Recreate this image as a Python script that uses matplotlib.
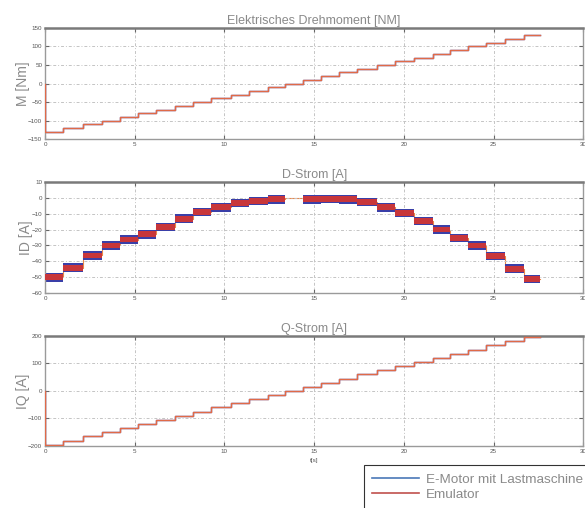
import numpy as np
import matplotlib.pyplot as plt

plt.rcParams['font.family'] = ['Liberation Sans', 'DejaVu Sans']

# step start times [s] and end of the run
step_t = [0.0, 1.02, 2.13, 3.15, 4.2, 5.18, 6.2, 7.22, 8.24, 9.26, 10.37, 11.39, 12.4,
          13.4, 14.4, 15.4, 16.4, 17.4, 18.5, 19.5, 20.55, 21.6, 22.6, 23.6, 24.6, 25.65, 26.7]
t_end = 27.6

torque = [-130, -120, -110, -100, -90, -80, -70, -60, -50, -40, -30, -20, -10,
          0, 10, 20, 30, 40, 50, 60, 70, 80, 90, 100, 110, 120, 130]
i_d = [-50, -44, -36.3, -30, -26.3, -23, -18.5, -13.2, -9, -6, -3.4, -2.1, -1,
       0, -1, -0.8, -1, -2.8, -6, -9.5, -14.7, -20, -25.4, -30, -36.7, -44.6, -51]
i_q = [-195, -180, -165, -150, -135, -120, -105, -90, -75, -60, -45, -30, -15,
       0, 15, 30, 45, 60, 75, 90, 105, 120, 135, 150, 165, 180, 195]

titles = ['Elektrisches Drehmoment [NM]', 'D-Strom [A]', 'Q-Strom [A]']
ylabels = ['M [Nm]', 'ID [A]', 'IQ [A]']
ylims = [(-150, 150), (-60, 10), (-200, 200)]
yticks = [[-150, -100, -50, 0, 50, 100, 150],
          [-60, -50, -40, -30, -20, -10, 0, 10],
          [-200, -100, 0, 100, 200]]

blue = '#3a3fa8'
red = '#c8363a'
txt = '#8a8a8a'

fig = plt.figure(figsize=(5.85, 5.08), dpi=100)
boxes = [[0.077, 0.726, 0.92, 0.219],
         [0.077, 0.423, 0.92, 0.219],
         [0.077, 0.122, 0.92, 0.217]]

t_plot = [0.0] + step_t + [t_end]
for k, series in enumerate([torque, i_d, i_q]):
    ax = fig.add_axes(boxes[k])
    y_plot = [0.0] + series + [series[-1]]
    if k == 1:
        # noisy current band -> bars around each level
        starts = np.array(step_t)
        widths = np.diff(step_t + [t_end])
        vals = np.array(series)
        on = vals != 0
        ax.bar(starts[on], 5.4, width=widths[on], bottom=vals[on] - 2.7,
               align='edge', color=blue, lw=0, zorder=2)
        ax.bar(starts[on], 3.6, width=widths[on], bottom=vals[on] - 1.8,
               align='edge', color=red, lw=0, zorder=3)
        ax.plot(step_t + [t_end], series + [series[-1]], drawstyle='steps-post',
                color='#e8874a', lw=0.8, zorder=1)
    else:
        ax.plot(t_plot, y_plot, drawstyle='steps-post', color=blue, lw=1.0, zorder=2)
        ax.plot(t_plot, y_plot, drawstyle='steps-post', color='#e06a48', lw=1.0, zorder=3)
    ax.set_xlim(0, 30)
    ax.set_ylim(*ylims[k])
    ax.set_xticks([0, 5, 10, 15, 20, 25, 30])
    ax.set_yticks(yticks[k])
    ax.grid(True, color='#c4c4c4', linestyle=(0, (3, 2, 1, 2)), lw=0.7)
    ax.tick_params(direction='in', top=True, right=True, length=3, width=0.8,
                   labelsize=4.5, labelcolor='#555555', color='#666666', pad=2)
    for side in ['left', 'right', 'bottom']:
        ax.spines[side].set_color('#9a9a9a')
        ax.spines[side].set_linewidth(1.0)
    ax.spines['top'].set_color('#7a7a7a')
    ax.spines['top'].set_linewidth(1.8)
    ax.set_title(titles[k], fontsize=9, color=txt, pad=3)
    ax.set_ylabel(ylabels[k], fontsize=10, color=txt, labelpad=-1)
    if k == 2:
        ax.set_xlabel('t[s]', fontsize=4.5, color='#555555', labelpad=3)

handles = [plt.Line2D([], [], color='#4a78b8', lw=1.2),
           plt.Line2D([], [], color='#c0504d', lw=1.2)]
leg = fig.legend(handles, ['E-Motor mit Lastmaschine', 'Emulator'],
                 loc='upper left', bbox_to_anchor=(0.61, 0.097),
                 fontsize=9.7, labelcolor=txt, frameon=True, fancybox=False,
                 edgecolor='black', handlelength=3.5, borderpad=0.6,
                 labelspacing=0.2, handletextpad=0.5)
leg.get_frame().set_linewidth(0.8)

fig.savefig('out.png', dpi=100)
